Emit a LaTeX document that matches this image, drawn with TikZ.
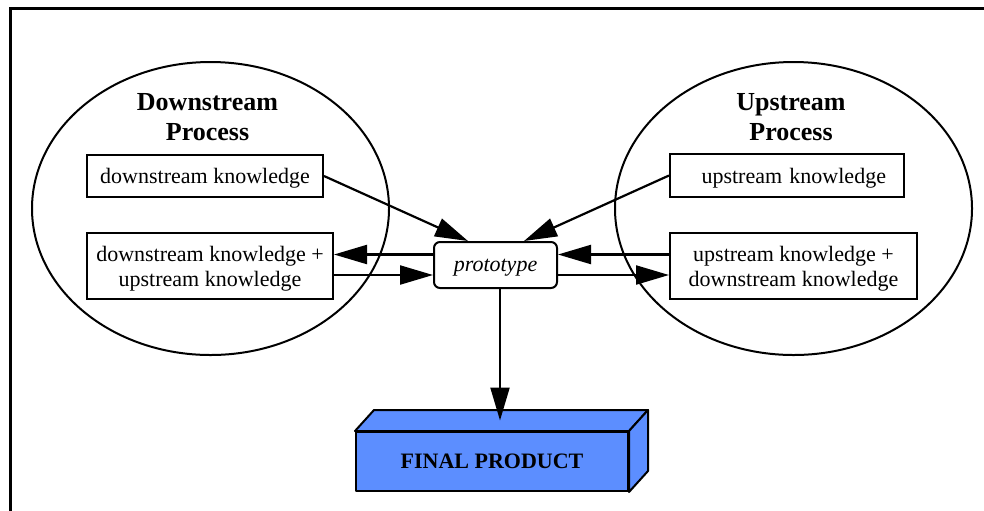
\documentclass[tikz,border=0pt]{standalone}
\usepackage{fontspec}
\setmainfont{Liberation Serif}
\usetikzlibrary{arrows.meta,shapes.geometric}
\definecolor{prodblue}{RGB}{92,142,255}
\begin{document}
\begin{tikzpicture}[x=0.5pt,y=-0.5pt,
  kfont/.style={font=\fontsize{11}{12.5}\selectfont},
  kbox/.style={draw,line width=1pt,inner sep=0pt,kfont,align=center,text depth=0pt},
  procarea/.style={draw,ellipse,line width=1pt,inner sep=0pt,
    minimum width=178.5pt,minimum height=146.5pt},
  heading/.style={font=\fontsize{13}{15}\selectfont\bfseries,align=center,inner sep=0pt},
  arr/.style={line width=1.1pt,-{Triangle[length=16.5pt,width=9.5pt]}},
  face/.style={draw,line width=1pt,fill=prodblue,line join=round}]
\useasboundingbox (0,0) rectangle (984,510);
% outer frame, running off the page on the right and bottom
\draw[line width=1.5pt] (10,530) -- (10,8) -- (1000,8);

% the two process areas
\node[procarea] (downproc) at (210.5,208.5) {};
\node[procarea] (upproc) at (793.5,208.5) {};
\node[heading] (downhead) at (207.5,117) {Downstream\\Process};
\node[heading] (uphead) at (791,117) {Upstream\\Process};

% knowledge boxes
\node[kbox,minimum width=118pt,minimum height=21pt] (dk) at (205,176) {downstream knowledge};
\node[kbox,minimum width=123pt,minimum height=33pt] (dku) at (210,266)
  {downstream knowledge +\\upstream knowledge};
\node[kbox,text width=99pt,inner xsep=9pt,align=right,minimum height=21.5pt] (uk) at (787,175.5)
  {upstream knowledge};
\node[kbox,minimum width=123.5pt,minimum height=33pt] (uku) at (793.5,266)
  {upstream knowledge +\\downstream knowledge};

% prototype
\node[kbox,rounded corners=3pt,minimum width=61.5pt,minimum height=23pt,
  font=\fontsize{11}{12.5}\selectfont\itshape] (proto) at (495.5,265) {prototype};

% final product block: front face with top and side faces
\node[face,minimum width=136pt,minimum height=29.5pt,inner sep=0pt,
  font=\fontsize{11}{13}\selectfont\bfseries] (fp) at (492,461.5) {FINAL PRODUCT};
\draw[face] (fp.north west) -- ++(9.5pt,10.5pt) -- ([shift={(9.5pt,10.5pt)}]fp.north east)
  -- (fp.north east) -- cycle;
\draw[face] (fp.north east) -- ++(9.5pt,10.5pt) -- ([shift={(9.5pt,10.5pt)}]fp.south east)
  -- (fp.south east) -- cycle;
\coordinate (fptop) at ([shift={(4.75pt,5.25pt)}]fp.north);

% knowledge flows
\draw[arr] (dk.east) -- ([xshift=-13.75pt]proto.north);
\draw[arr] (uk.west) -- ([xshift=14.25pt]proto.north);
\draw[arr] ([yshift=5.25pt]proto.west) -- ([yshift=5.25pt]proto.west -| dku.east);
\draw[arr] ([yshift=-5pt]proto.west -| dku.east) -- ([yshift=-5pt]proto.west);
\draw[arr] ([yshift=5.25pt]proto.east -| uku.west) -- ([yshift=5.25pt]proto.east);
\draw[arr] ([yshift=-5pt]proto.east) -- ([yshift=-5pt]proto.east -| uku.west);
\draw[arr] ([xshift=2.25pt]proto.south) -- ([xshift=2.25pt]proto.south |- fptop);
\end{tikzpicture}
\end{document}
